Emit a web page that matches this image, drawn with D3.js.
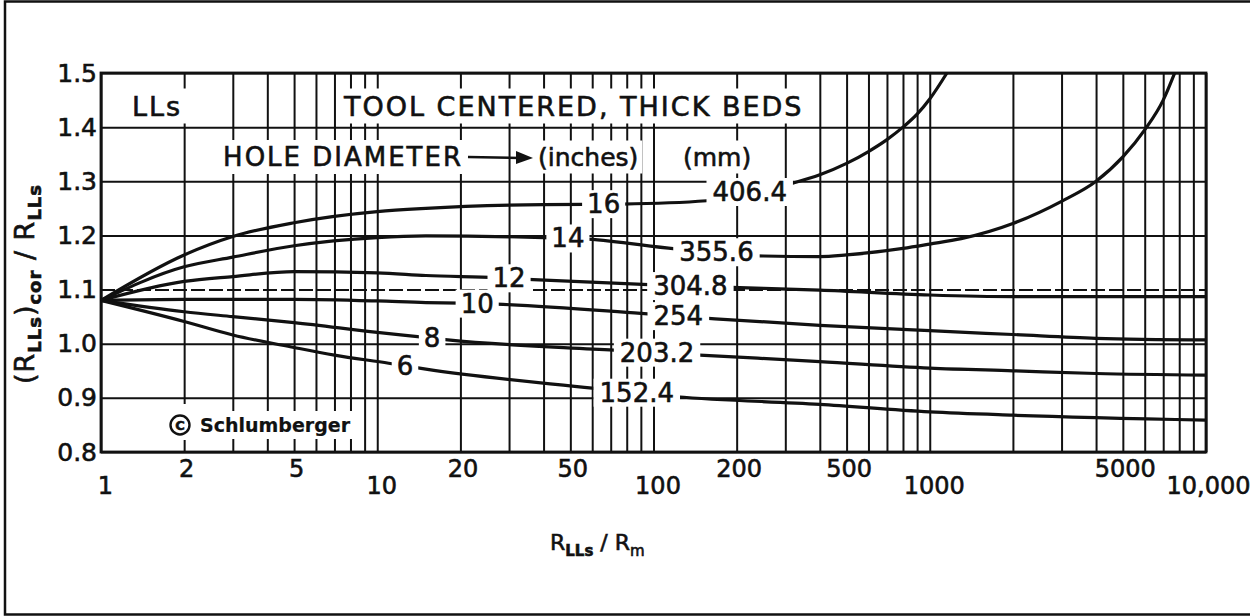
<!DOCTYPE html>
<html>
<head>
<meta charset="utf-8">
<script src="https://cdn.jsdelivr.net/npm/d3@7"></script>
<style>
  body { margin: 0; background: #fff; }
  svg { display: block; }
  text { font-family: "DejaVu Sans", "Liberation Sans", sans-serif; fill: #111; stroke: #111; stroke-width: 0.6px; }
</style>
</head>
<body>
<svg id="chart" width="1250" height="616"></svg>
<script>
// Hole-diameter correction curves, LLs tool centered, thick beds.
// Each curve: [R_LLs/R_m, (R_LLs)cor/R_LLs]
const holeInches = ["16", "14", "12", "10", "8", "6"];
const holeMm = ["406.4", "355.6", "304.8", "254", "203.2", "152.4"];

const curve16 = [[1, 1.08], [2, 1.164], [3, 1.198], [5, 1.2235], [10, 1.244], [15, 1.25], [40, 1.257], [77, 1.258], [156, 1.264], [316, 1.296], [400, 1.312], [500, 1.333], [600, 1.355], [700, 1.377], [800, 1.40], [900, 1.424], [1000, 1.452], [1154, 1.5]];
const curve14 = [[1, 1.08], [2, 1.142], [3, 1.16], [5, 1.181], [10, 1.196], [15, 1.199], [40, 1.196], [58, 1.193], [120, 1.175], [250, 1.162], [400, 1.161], [500, 1.164], [800, 1.176], [1000, 1.184], [1300, 1.194], [2000, 1.222], [3000, 1.263], [4000, 1.300], [5000, 1.345], [6000, 1.395], [7000, 1.450], [7700, 1.5]];
const curve12 = [[1, 1.08], [2, 1.115], [3, 1.124], [5, 1.133], [10, 1.131], [15, 1.126], [27, 1.122], [35, 1.119], [96, 1.109], [192, 1.104], [400, 1.099], [1000, 1.090], [2000, 1.087], [10000, 1.087]];
const curve10 = [[1, 1.08], [2, 1.082], [5, 1.082], [10, 1.079], [15, 1.076], [20, 1.075], [27, 1.073], [90, 1.056], [167, 1.046], [400, 1.034], [1000, 1.024], [2000, 1.017], [4000, 1.010], [10000, 1.007]];
const curve8 = [[1, 1.08], [2, 1.059], [3, 1.05], [5, 1.039], [10, 1.021], [14, 1.013], [18, 1.007], [72, 0.988], [147, 0.979], [400, 0.967], [1000, 0.955], [2000, 0.950], [4000, 0.945], [10000, 0.942]];
const curve6 = [[1, 1.08], [2, 1.041], [3, 1.016], [5, 0.993], [7, 0.979], [11, 0.964], [15, 0.953], [60, 0.918], [121, 0.902], [400, 0.888], [1000, 0.874], [2000, 0.868], [10000, 0.859]];
const curves = [curve16, curve14, curve12, curve10, curve8, curve6];

// where along each curve its two labels sit (R_LLs/R_m)
const inchLabelAt = [66, 49, 30, 23, 15.8, 12.6];
const mmLabelAt = [223, 169, 136, 123, 103, 87];

const yTicks = [0.8, 0.9, 1.0, 1.1, 1.2, 1.3, 1.4, 1.5];
const xTicksUpper = [2, 5, 20, 50, 200, 500, 5000];
const xTicksLower = [1, 10, 100, 1000, 10000];
const xTickText = {1: "1", 2: "2", 5: "5", 10: "10", 20: "20", 50: "50", 100: "100", 200: "200", 500: "500", 1000: "1000", 5000: "5000", 10000: "10,000"};

const svg = d3.select("#chart");
const plot = { left: 101, right: 1206, top: 73, bottom: 452 };

const x = d3.scaleLog().domain([1, 10000]).range([plot.left, plot.right]);
const y = d3.scaleLinear().domain([0.8, 1.5]).range([plot.bottom, plot.top]);

// outer border (right edge runs off the sheet)
svg.append("rect")
  .attr("x", 5).attr("y", 1.5).attr("width", 1260).attr("height", 613)
  .attr("fill", "none").attr("stroke", "#111").attr("stroke-width", 2.5);

// grid
const gridX = [];
for (let p = 0; p < 4; p++) for (let m = 1; m <= 9; m++) gridX.push(m * Math.pow(10, p));
gridX.push(10000);

const gx = svg.append("g")
  .attr("transform", `translate(0,${plot.bottom})`)
  .call(d3.axisBottom(x).tickValues(gridX).tickSize(-(plot.bottom - plot.top)).tickFormat(""));
gx.select(".domain").remove();
gx.selectAll("line").attr("stroke", "#111").attr("stroke-width", 2);

const gy = svg.append("g")
  .attr("transform", `translate(${plot.left},0)`)
  .call(d3.axisLeft(y).tickValues(yTicks).tickSize(-(plot.right - plot.left)).tickFormat(""));
gy.select(".domain").remove();
gy.selectAll("line")
  .attr("stroke", "#111").attr("stroke-width", 2)
  .attr("stroke-dasharray", d => Math.abs(d - 1.1) < 1e-9 ? "14,4" : null);

// frame
svg.append("rect")
  .attr("x", plot.left).attr("y", plot.top)
  .attr("width", plot.right - plot.left).attr("height", plot.bottom - plot.top)
  .attr("fill", "none").attr("stroke", "#111").attr("stroke-width", 2.8);

// curves
const line = d3.line().x(d => x(d[0])).y(d => y(d[1])).curve(d3.curveMonotoneX);
svg.append("g").selectAll("path").data(curves).join("path")
  .attr("d", line).attr("fill", "none").attr("stroke", "#111")
  .attr("stroke-width", 3.2).attr("stroke-linejoin", "round");

// value of a curve at a given abscissa (log-linear between points)
function curveAt(c, v) {
  for (let i = 1; i < c.length; i++) {
    if (v <= c[i][0]) {
      const t = (Math.log(v) - Math.log(c[i - 1][0])) / (Math.log(c[i][0]) - Math.log(c[i - 1][0]));
      return c[i - 1][1] + t * (c[i][1] - c[i - 1][1]);
    }
  }
  return c[c.length - 1][1];
}

// text with a white backing box that breaks the lines beneath it
function boxedText(g, tx, ty, str, size, anchor, padX, padY, extra) {
  const grp = g.append("g");
  const bg = grp.append("rect").attr("fill", "#fff");
  const t = grp.append("text")
    .attr("x", tx).attr("y", ty)
    .attr("text-anchor", anchor || "middle")
    .attr("dominant-baseline", "central")
    .attr("font-size", size)
    .text(str);
  if (extra) extra(t);
  const b = t.node().getBBox();
  bg.attr("x", b.x - padX).attr("y", b.y - padY)
    .attr("width", b.width + 2 * padX).attr("height", b.height + 2 * padY);
  return t;
}

const labels = svg.append("g");
curves.forEach((c, i) => {
  const xi = inchLabelAt[i];
  boxedText(labels, x(xi), y(curveAt(c, xi)), holeInches[i], 26, "middle", 5, -1);
  const xm = mmLabelAt[i];
  boxedText(labels, x(xm), y(curveAt(c, xm)), holeMm[i], 26, "middle", 6, -1);
});

// annotations
const notes = svg.append("g");
boxedText(notes, 157, 106, "LLs", 27, "middle", 12, 2, t => t.attr("letter-spacing", 2));
boxedText(notes, 344, 106, "TOOL CENTERED, THICK BEDS", 27, "start", 6, 2, t => t.attr("letter-spacing", 2));
boxedText(notes, 463, 157, "HOLE DIAMETER", 26, "end", 6, 2, t => t.attr("letter-spacing", 2));
boxedText(notes, 538, 157, "(inches)", 25, "start", 4, 2);
boxedText(notes, 683, 157, "(mm)", 25, "start", 4, 2);

// arrow from the label to the inch column
notes.append("line").attr("x1", 468).attr("y1", 157).attr("x2", 520).attr("y2", 158)
  .attr("stroke", "#111").attr("stroke-width", 2.5);
notes.append("path").attr("d", "M516,151 L533,158 L516,164 Z").attr("fill", "#111");

boxedText(notes, 200, 425, "Schlumberger", 19, "start", 4, 3, t => t.attr("font-weight", "bold").style("stroke-width", "0.2px"));
notes.append("rect").attr("x", 163).attr("y", 404).attr("width", 38).attr("height", 36).attr("fill", "#fff");
notes.append("circle").attr("cx", 180).attr("cy", 425).attr("r", 9.5)
  .attr("fill", "none").attr("stroke", "#111").attr("stroke-width", 2.4);
notes.append("text").attr("x", 180).attr("y", 425).attr("text-anchor", "middle")
  .attr("dominant-baseline", "central").attr("font-size", 13).attr("font-weight", "bold").text("C");

// tick labels
const yAxis = svg.append("g")
  .attr("transform", `translate(${plot.left},0)`)
  .call(d3.axisLeft(y).tickValues(yTicks).tickFormat(d3.format(".1f")).tickSize(0).tickPadding(4));
yAxis.select(".domain").remove();
yAxis.selectAll("text").attr("font-size", 25).attr("font-family", null).attr("fill", null);

const xUpper = svg.append("g")
  .attr("transform", `translate(2,${plot.bottom})`)
  .call(d3.axisBottom(x).tickValues(xTicksUpper).tickFormat(d => xTickText[d]).tickSize(0).tickPadding(8));
xUpper.select(".domain").remove();
xUpper.selectAll("text").attr("font-size", 24).attr("font-family", null).attr("fill", null);

const xLower = svg.append("g")
  .attr("transform", `translate(4,${plot.bottom})`)
  .call(d3.axisBottom(x).tickValues(xTicksLower).tickFormat(d => xTickText[d]).tickSize(0).tickPadding(25));
xLower.select(".domain").remove();
xLower.selectAll("text").attr("font-size", 24).attr("font-family", null).attr("fill", null)
  .attr("text-anchor", d => d === 10000 ? "end" : "middle")
  .attr("dx", d => d === 10000 ? 40 : 0);

// axis titles
const xt = svg.append("text").attr("x", 550).attr("y", 550).attr("font-size", 22);
xt.append("tspan").text("R");
xt.append("tspan").attr("font-size", 15).attr("font-weight", "bold").attr("dy", 6).text("LLs");
xt.append("tspan").attr("dy", -6).text(" / R");
xt.append("tspan").attr("font-size", 15).attr("dy", 6).text("m");

const yt = svg.append("text")
  .attr("transform", "translate(34,284) rotate(-90)")
  .attr("text-anchor", "middle").attr("font-size", 27).attr("letter-spacing", 1);
yt.append("tspan").text("(R");
yt.append("tspan").attr("font-size", 18).attr("font-weight", "bold").attr("dy", 7).text("LLs");
yt.append("tspan").attr("dy", -7).text(")");
yt.append("tspan").attr("font-size", 18).attr("font-weight", "bold").attr("dy", 7).text("cor");
yt.append("tspan").attr("dy", -7).text(" / R");
yt.append("tspan").attr("font-size", 18).attr("font-weight", "bold").attr("dy", 7).text("LLs");
</script>
</body>
</html>
